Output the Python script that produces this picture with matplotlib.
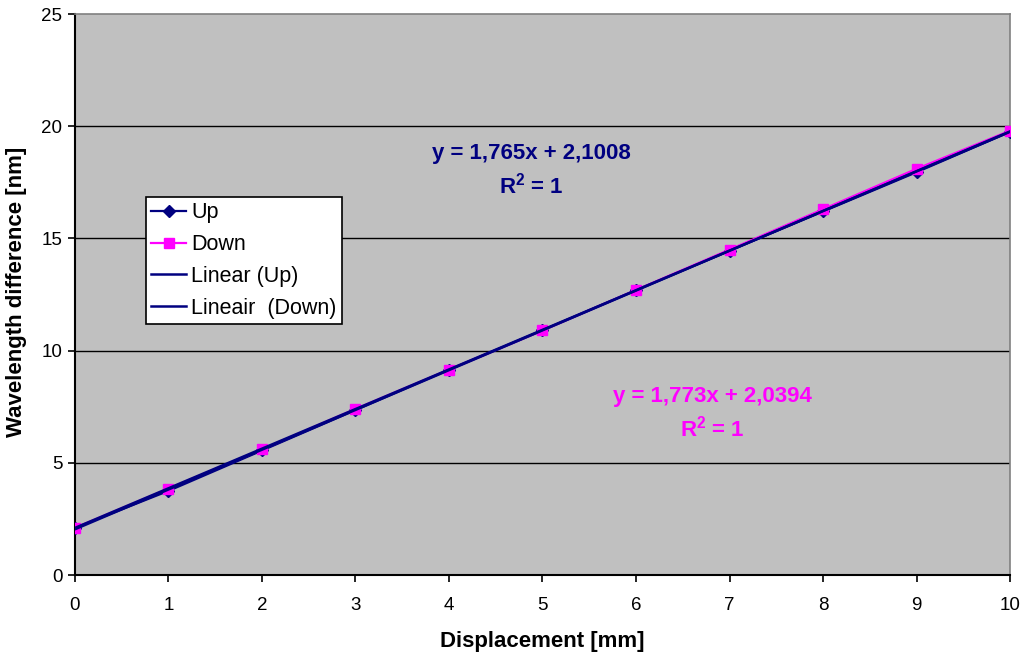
import matplotlib
matplotlib.use("Agg")
import matplotlib.pyplot as plt
import numpy as np

plt.rcParams['font.family'] = ['Liberation Sans', 'DejaVu Sans']
plt.rcParams['mathtext.fontset'] = 'custom'
plt.rcParams['mathtext.rm'] = 'Liberation Sans'
plt.rcParams['mathtext.bf'] = 'Liberation Sans:bold'

# Measured wavelength difference against displacement
displacement = [0, 1, 2, 3, 4, 5, 6, 7, 8, 9, 10]
up_values = [2.10, 3.75, 5.55, 7.35, 9.15, 10.90, 12.70, 14.45, 16.20, 17.95, 19.75]
down_values = [2.10, 3.85, 5.60, 7.40, 9.15, 10.90, 12.70, 14.50, 16.30, 18.10, 19.80]

# Linear trendline coefficients
up_slope, up_intercept = 1.765, 2.1008
down_slope, down_intercept = 1.773, 2.0394

x_ticks = [0, 1, 2, 3, 4, 5, 6, 7, 8, 9, 10]
y_ticks = [0, 5, 10, 15, 20, 25]

NAVY = "#000080"
MAGENTA = "#FF00FF"
PLOT_BG = "#C0C0C0"

fig = plt.figure(figsize=(10.23, 6.55), dpi=100)
fig.patch.set_facecolor("white")
ax = fig.add_axes([0.0733, 0.1221, 0.9140, 0.8565])
ax.set_facecolor(PLOT_BG)

x = np.array(displacement, dtype=float)
ax.plot(x, up_values, color=NAVY, lw=1.6, marker="D", ms=6.5,
        mfc=NAVY, mec=NAVY, label="Up", zorder=3)
ax.plot(x, down_values, color=MAGENTA, lw=1.6, marker="s", ms=6.5,
        mfc=MAGENTA, mec=MAGENTA, label="Down", zorder=3)

xt = np.array([x_ticks[0], x_ticks[-1]], dtype=float)
ax.plot(xt, up_slope * xt + up_intercept, color=NAVY, lw=1.8,
        label="Linear (Up)", zorder=4)
ax.plot(xt, down_slope * xt + down_intercept, color=NAVY, lw=1.8,
        label="Lineair  (Down)", zorder=4)

ax.set_xlim(x_ticks[0], x_ticks[-1])
ax.set_ylim(y_ticks[0], y_ticks[-1])
ax.set_xticks(x_ticks)
ax.set_yticks(y_ticks)
ax.tick_params(axis="both", direction="out", length=5, width=1.2,
               labelsize=13.5, color="black")
ax.tick_params(axis="x", pad=11)
ax.tick_params(axis="y", pad=4)

for yv in y_ticks[1:-1]:
    ax.axhline(yv, color="black", lw=1.0, zorder=1)

for side in ("left", "bottom"):
    ax.spines[side].set_color("black")
    ax.spines[side].set_linewidth(1.5)
for side in ("top", "right"):
    ax.spines[side].set_color("#808080")
    ax.spines[side].set_linewidth(1.2)

ax.set_xlabel("Displacement [mm]", fontsize=16, fontweight="bold", labelpad=12)
ax.set_ylabel("Wavelength difference [nm]", fontsize=16, fontweight="bold")
ax.yaxis.set_label_coords(-0.051, 0.505)

eq_kw = dict(transform=ax.transAxes, ha="center", va="center",
             fontsize=16, fontweight="bold", linespacing=1.4)
ax.text(0.488, 0.720, "y = 1,765x + 2,1008\nR$^\\mathbf{2}$ = 1", color=NAVY, **eq_kw)
ax.text(0.682, 0.287, "y = 1,773x + 2,0394\nR$^\\mathbf{2}$ = 1", color=MAGENTA, **eq_kw)

leg = ax.legend(loc="upper left", bbox_to_anchor=(0.076, 0.674), frameon=True,
                fancybox=False, framealpha=1, edgecolor="black", fontsize=15.5,
                handlelength=1.6, handletextpad=0.25, borderpad=0.25,
                labelspacing=0.5, borderaxespad=0)
leg.get_frame().set_linewidth(1.2)

fig.savefig("out.png", dpi=100, facecolor="white")
